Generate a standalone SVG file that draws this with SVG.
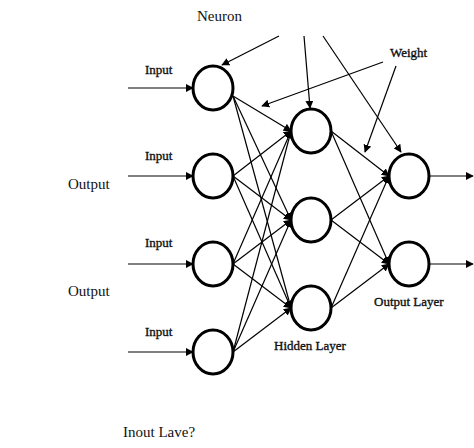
<svg xmlns="http://www.w3.org/2000/svg" width="474" height="448" viewBox="0 0 474 448">
<style>
.n{fill:#fff;stroke:#000;stroke-width:3}
.c{stroke:#000;stroke-width:1.2;fill:none;marker-end:url(#a)}
.t{font-family:"Liberation Serif",serif;font-size:15px;fill:#111}
.tb{font-family:"Liberation Serif",serif;font-size:13px;fill:#111;stroke:#111;stroke-width:0.35}
</style>
<defs>
<marker id="a" viewBox="0 0 10 10" refX="9" refY="5" markerWidth="8" markerHeight="8" markerUnits="userSpaceOnUse" orient="auto">
<path d="M0,0 L10,5 L0,10 z" fill="#000"/>
</marker>
</defs>
<rect width="474" height="448" fill="#fff"/>
<g id="connectors">
<line class="c" x1="128" y1="88" x2="193" y2="88"/>
<line class="c" x1="128" y1="176" x2="193" y2="176"/>
<line class="c" x1="128" y1="264" x2="193" y2="264"/>
<line class="c" x1="128" y1="352" x2="193" y2="352"/>
<line class="c" x1="233" y1="96" x2="291" y2="131"/>
<line class="c" x1="233" y1="96" x2="291" y2="220"/>
<line class="c" x1="233" y1="96" x2="291" y2="308"/>
<line class="c" x1="233" y1="176" x2="291" y2="131"/>
<line class="c" x1="233" y1="176" x2="291" y2="220"/>
<line class="c" x1="233" y1="176" x2="291" y2="308"/>
<line class="c" x1="233" y1="264" x2="291" y2="131"/>
<line class="c" x1="233" y1="264" x2="291" y2="220"/>
<line class="c" x1="233" y1="264" x2="291" y2="308"/>
<line class="c" x1="233" y1="352" x2="291" y2="131"/>
<line class="c" x1="233" y1="352" x2="291" y2="220"/>
<line class="c" x1="233" y1="352" x2="291" y2="308"/>
<line class="c" x1="331" y1="131" x2="389" y2="176"/>
<line class="c" x1="331" y1="131" x2="389" y2="264"/>
<line class="c" x1="331" y1="220" x2="389" y2="176"/>
<line class="c" x1="331" y1="220" x2="389" y2="264"/>
<line class="c" x1="331" y1="308" x2="389" y2="176"/>
<line class="c" x1="331" y1="308" x2="389" y2="264"/>
<line class="c" x1="429" y1="176" x2="473" y2="176"/>
<line class="c" x1="429" y1="264" x2="473" y2="264"/>
<line class="c" x1="279" y1="36" x2="222" y2="65"/>
<line class="c" x1="304" y1="36" x2="310" y2="108"/>
<line class="c" x1="323" y1="36" x2="401" y2="152"/>
<line class="c" x1="383" y1="62" x2="262" y2="106"/>
<line class="c" x1="396" y1="66" x2="365" y2="152"/>
</g>
<g id="in1"><ellipse class="n" cx="213" cy="88" rx="20" ry="22"/></g>
<g id="in2"><ellipse class="n" cx="213" cy="176" rx="20" ry="22"/></g>
<g id="in3"><ellipse class="n" cx="213" cy="264" rx="20" ry="22"/></g>
<g id="in4"><ellipse class="n" cx="213" cy="352" rx="20" ry="22"/></g>
<g id="h1"><ellipse class="n" cx="311" cy="131" rx="20" ry="22"/></g>
<g id="h2"><ellipse class="n" cx="311" cy="220" rx="20" ry="22"/></g>
<g id="h3"><ellipse class="n" cx="311" cy="308" rx="20" ry="22"/></g>
<g id="o1"><ellipse class="n" cx="409" cy="176" rx="20" ry="22"/></g>
<g id="o2"><ellipse class="n" cx="409" cy="264" rx="20" ry="22"/></g>
<g id="labels">
<text class="t" x="197" y="21">Neuron</text>
<text class="tb" x="390" y="57">Weight</text>
<text class="tb" x="145" y="74">Input</text>
<text class="tb" x="145" y="160">Input</text>
<text class="tb" x="145" y="247">Input</text>
<text class="tb" x="145" y="336">Input</text>
<text class="t" x="68" y="189">Output</text>
<text class="t" x="68" y="296">Output</text>
<text class="tb" x="374" y="306">Output Layer</text>
<text class="tb" x="274" y="350">Hidden Layer</text>
<text class="t" x="123" y="437">Inout Lave?</text>
</g>
</svg>
